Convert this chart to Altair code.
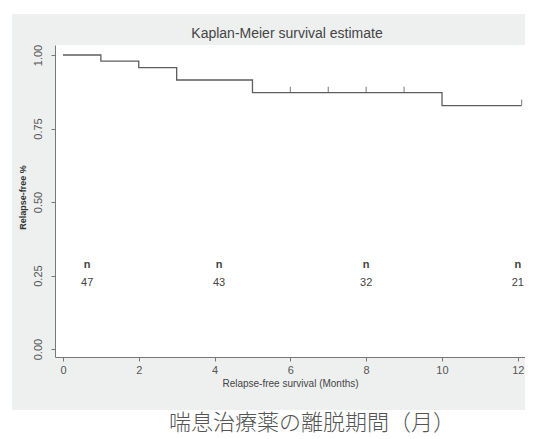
import altair as alt
import pandas as pd

# Kaplan-Meier step curve (months, survival)
km_months = [0, 1, 2, 3, 5, 10, 12.1]
km_surv = [1.0, 0.979, 0.957, 0.915, 0.872, 0.828, 0.828]

# censored observations
cens_months = [6, 7, 8, 9, 12.1]
cens_surv = [0.872, 0.872, 0.872, 0.872, 0.828]

# number at risk annotations
risk_months = [0.64, 4.12, 8.0, 12.0]
risk_n = ["47", "43", "32", "21"]
risk_label_y = 0.286
risk_num_y = 0.224

x_ticks = [0, 2, 4, 6, 8, 10, 12]
y_ticks = [0.0, 0.25, 0.5, 0.75, 1.0]

title_text = "Kaplan-Meier survival estimate"
x_title = "Relapse-free survival (Months)"
y_title = "Relapse-free %"
caption = "喘息治療薬の離脱期間（月）"

W, H = 470, 312
FONT = "Liberation Sans"
AX = "#777777"

km = pd.DataFrame({"month": km_months, "surv": km_surv})
cens = pd.DataFrame({"month": cens_months, "surv": cens_surv})
risk = pd.DataFrame({"month": risk_months, "n": risk_n,
                     "ly": [risk_label_y] * 4, "ny": [risk_num_y] * 4})
one = pd.DataFrame({"a": [0]})

xs = alt.Scale(domain=[-0.21, 12.19], nice=False, zero=False)
ys = alt.Scale(domain=[-0.027, 1.034], nice=False, zero=False)

bg = alt.Chart(one).mark_rect(color="#eef0f0").encode(
    x=alt.value(-43), x2=alt.value(478), y=alt.value(-31), y2=alt.value(365))
plotbg = alt.Chart(one).mark_rect(color="#ffffff").encode(
    x=alt.value(0), x2=alt.value(W + 6), y=alt.value(0), y2=alt.value(H))

line = alt.Chart(km).mark_line(interpolate="step-after", color="#5e5e5e", strokeWidth=1.3).encode(
    x=alt.X("month:Q", scale=xs,
            axis=alt.Axis(values=x_ticks, title=x_title, grid=False, format="d", zindex=1,
                          domainColor=AX, tickColor=AX, tickSize=4, labelPadding=3,
                          labelFontSize=11, labelColor="#555555", labelFont=FONT,
                          titleFont=FONT, titleFontSize=10, titleFontWeight="normal",
                          titleColor="#444444", titlePadding=3)),
    y=alt.Y("surv:Q", scale=ys,
            axis=alt.Axis(values=y_ticks, title=y_title, grid=False, format=".2f", zindex=1,
                          domainColor=AX, tickColor=AX, tickSize=4, labelPadding=8,
                          labelAngle=270, labelAlign="center", labelBaseline="bottom",
                          labelFontSize=11, labelColor="#555555", labelFont=FONT,
                          titleFont=FONT, titleFontSize=9, titleFontWeight="bold",
                          titleColor="#333333", titleAngle=270, titleAlign="center",
                          titleBaseline="middle", titleX=-33, titleY=152)),
)

cens_marks = alt.Chart(cens).mark_tick(orient="vertical", size=6, thickness=1.2,
                                       color="#5e5e5e", yOffset=-3).encode(
    x=alt.X("month:Q", scale=xs), y=alt.Y("surv:Q", scale=ys))

nlab = alt.Chart(risk).mark_text(text="n", font=FONT, fontSize=11, fontWeight="bold",
                                 color="#444444").encode(
    x=alt.X("month:Q", scale=xs), y=alt.Y("ly:Q", scale=ys))
nnum = alt.Chart(risk).mark_text(font=FONT, fontSize=11, color="#444444").encode(
    x=alt.X("month:Q", scale=xs), y=alt.Y("ny:Q", scale=ys), text="n:N")

ttl = alt.Chart(one).mark_text(text=title_text, font=FONT, fontSize=14,
                               color="#444444").encode(
    x=alt.value(232), y=alt.value(-11))

cap = alt.Chart(one).mark_text(text=caption, font="Noto Sans CJK JP", fontSize=22,
                               fontWeight=300, color="#555555").encode(
    x=alt.value(257), y=alt.value(378))

chart = alt.layer(bg, plotbg, line, cens_marks, nlab, nnum, ttl, cap).properties(
    width=W, height=H,
    autosize=alt.AutoSizeParams(type="none"),
    padding={"left": 47, "top": 37, "right": 0, "bottom": 86},
).configure_view(stroke=None).configure(background="#ffffff")

chart.save("out.html", embed_options={"renderer": "svg", "actions": False})
